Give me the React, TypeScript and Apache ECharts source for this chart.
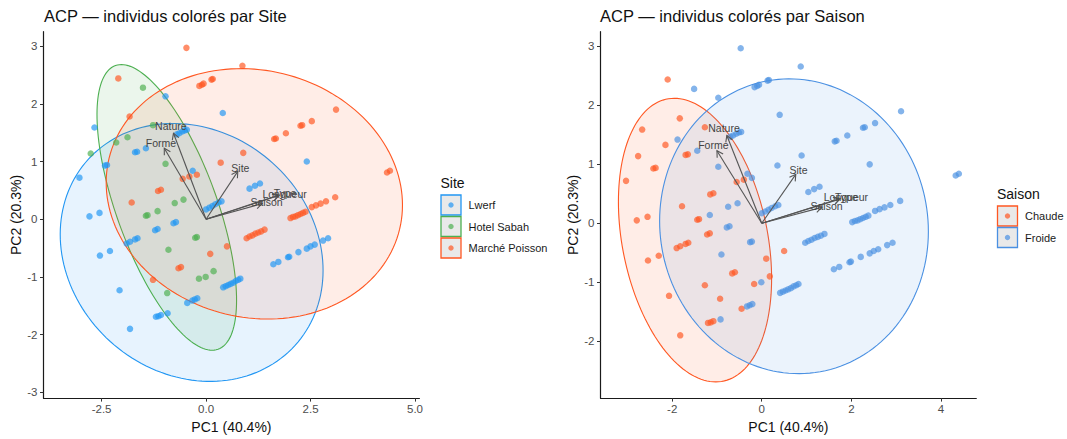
import React, { useEffect, useRef } from 'react';
import * as echarts from 'echarts';

const FONT = '"Liberation Sans", Arial, Helvetica, sans-serif';

const siteNames = ['Lwerf', 'Hotel Sabah', 'Marché Poisson'];
const siteColors = ['#2196F3', '#4CAF50', '#FF5722'];
const saisonNames = ['Chaude', 'Froide'];
const saisonCodes = ['C', 'F'];
const saisonColors = ['#FF5722', '#4A90E2'];

// individuals: [PC1, PC2, saison]
const pointsLwerf: [number, number, string][] = [
  [-0.97, 2.13, 'F'], [0.40, 1.84, 'F'], [-2.67, 1.59, 'C'],
  [-0.70, 1.47, 'F'], [-0.64, 1.49, 'F'], [-0.57, 1.52, 'F'], [-0.51, 1.54, 'F'], [-0.46, 1.55, 'F'],
  [-1.70, 1.16, 'C'], [-1.65, 1.17, 'C'], [-1.44, 1.23, 'F'],
  [-2.42, 0.93, 'C'], [-2.37, 0.94, 'C'], [2.41, 1.00, 'F'], [-3.03, 0.72, 'C'], [-0.32, 0.84, 'F'],
  [1.04, 0.53, 'F'], [1.17, 0.58, 'F'], [1.29, 0.62, 'F'],
  [0.00, 0.17, 'F'], [0.08, 0.20, 'F'], [0.15, 0.23, 'F'], [0.22, 0.26, 'F'], [0.30, 0.29, 'F'], [0.37, 0.31, 'F'],
  [-2.79, 0.05, 'C'], [-2.55, 0.11, 'C'],
  [-1.90, -0.42, 'C'], [-1.82, -0.39, 'C'], [-1.70, -0.35, 'C'], [-1.64, -0.33, 'C'],
  [-1.22, -0.19, 'C'], [-1.16, -0.17, 'C'], [-0.78, -0.07, 'F'], [-0.72, -0.05, 'F'],
  [-2.54, -0.63, 'C'], [-2.30, -0.55, 'C'], [-2.07, -1.23, 'C'],
  [1.61, -0.78, 'F'], [1.73, -0.74, 'F'], [1.96, -0.66, 'F'], [1.99, -0.65, 'F'], [2.21, -0.57, 'F'],
  [2.41, -0.51, 'F'], [2.50, -0.47, 'F'], [2.60, -0.44, 'F'], [2.80, -0.37, 'F'], [2.92, -0.33, 'F'],
  [0.41, -1.18, 'F'], [0.47, -1.16, 'F'], [0.53, -1.14, 'F'], [0.59, -1.12, 'F'],
  [0.65, -1.10, 'F'], [0.71, -1.07, 'F'], [0.77, -1.05, 'F'], [0.82, -1.03, 'F'],
  [-0.45, -1.45, 'C'], [-0.33, -1.41, 'F'], [-0.27, -1.39, 'F'], [-0.21, -1.37, 'F'],
  [-1.20, -1.69, 'C'], [-1.14, -1.68, 'C'], [-1.08, -1.66, 'C'], [-0.92, -1.63, 'F'], [-1.82, -1.90, 'C'],
];

const pointsHotelSabah: [number, number, string][] = [
  [-1.51, 2.28, 'F'], [-1.27, 1.63, 'C'], [-1.88, 1.42, 'F'], [-2.15, 1.33, 'C'], [-2.76, 1.14, 'C'],
  [-0.97, 0.96, 'F'], [-0.54, 0.34, 'F'], [-0.75, 0.28, 'F'], [-1.16, 0.14, 'F'],
  [-1.44, 0.06, 'C'], [-1.40, 0.07, 'C'], [-0.26, -0.32, 'F'], [-0.22, -0.31, 'F'],
  [-0.90, -0.53, 'F'], [0.18, -0.90, 'C'], [-0.01, -1.00, 'F'], [-0.17, -1.03, 'C'], [-0.93, -1.28, 'C'],
];

const pointsMarchePoisson: [number, number, string][] = [
  [-0.47, 2.97, 'F'], [0.87, 2.66, 'F'], [-2.10, 2.44, 'C'],
  [-0.16, 2.31, 'F'], [-0.10, 2.33, 'F'], [-0.06, 2.35, 'F'], [0.13, 2.42, 'F'], [0.16, 2.43, 'F'],
  [-1.83, 1.78, 'C'], [3.11, 1.90, 'F'], [2.53, 1.70, 'F'], [2.26, 1.62, 'F'], [2.30, 1.63, 'F'],
  [1.91, 1.49, 'F'], [1.63, 1.39, 'F'], [1.67, 1.40, 'F'], [0.89, 1.15, 'F'], [0.35, 0.98, 'F'],
  [-0.22, 0.77, 'F'], [-0.40, 0.74, 'C'], [-0.56, 0.70, 'C'], [4.33, 0.81, 'F'], [4.40, 0.84, 'F'],
  [-1.15, 0.49, 'C'], [-1.08, 0.51, 'C'], [-1.78, 0.29, 'C'],
  [3.09, 0.38, 'F'], [2.87, 0.31, 'F'], [2.74, 0.27, 'F'], [2.63, 0.24, 'F'], [2.53, 0.21, 'F'],
  [2.02, 0.02, 'F'], [2.08, 0.04, 'F'], [2.14, 0.05, 'F'], [2.20, 0.07, 'F'], [2.26, 0.09, 'F'], [2.32, 0.11, 'F'], [2.38, 0.13, 'F'],
  [0.97, -0.33, 'F'], [1.04, -0.30, 'F'], [1.11, -0.28, 'F'], [1.18, -0.25, 'F'], [1.25, -0.23, 'F'], [1.32, -0.21, 'F'], [1.40, -0.18, 'F'],
  [0.50, -0.47, 'C'], [0.10, -0.60, 'C'], [-0.66, -0.85, 'C'], [-0.60, -0.83, 'C'], [-1.27, -1.05, 'C'],
];

// variable loadings (arrows)
const variableNames = ['Nature', 'Forme', 'Site', 'Longueur', 'Type', 'Saison'];
const loadingsPC1 = [-0.78, -1.0, 0.76, 1.74, 1.75, 1.34];
const loadingsPC2 = [1.49, 1.23, 0.83, 0.41, 0.42, 0.27];

// confidence ellipses: [centre PC1, centre PC2, half-width, half-height, correlation]
const siteEllipses = [
  [-0.345, -0.575, 3.145, 2.235, -0.14],
  [-0.94, 0.205, 1.67, 2.475, -0.65],
  [1.155, 0.44, 3.545, 2.17, -0.09],
];
const saisonEllipses = [
  [-1.49, -0.285, 1.71, 2.405, -0.27],
  [0.72, -0.05, 3.0, 2.5, -0.035],
];

const xTicksSite = [-2.5, 0, 2.5, 5];
const yTicksSite = [-3, -2, -1, 0, 1, 2, 3];
const xTicksSaison = [-2, 0, 2, 4];
const yTicksSaison = [-2, -1, 0, 1, 2, 3];

function rgba(hex: string, a: number) {
  const n = parseInt(hex.slice(1), 16);
  return `rgba(${(n >> 16) & 255},${(n >> 8) & 255},${n & 255},${a})`;
}

function ellipseSeries(params: number[][], colors: string[], idx: number) {
  return {
    type: 'custom',
    xAxisIndex: idx,
    yAxisIndex: idx,
    z: 1,
    clip: false,
    silent: true,
    data: params,
    renderItem: (p: any, api: any) => {
      const cx = api.value(0), cy = api.value(1), sx = api.value(2), sy = api.value(3), r = api.value(4);
      const k = Math.sqrt(1 - r * r);
      const pts: number[][] = [];
      const N = 160;
      for (let i = 0; i < N; i++) {
        const t = (i / N) * Math.PI * 2;
        pts.push(api.coord([cx + sx * Math.cos(t), cy + sy * (r * Math.cos(t) + k * Math.sin(t))]));
      }
      const c = colors[p.dataIndex];
      return {
        type: 'polygon',
        shape: { points: pts },
        style: { fill: rgba(c, 0.11), stroke: c, lineWidth: 1.1 },
      };
    },
  };
}

function arrowSeries(idx: number) {
  return {
    type: 'custom',
    xAxisIndex: idx,
    yAxisIndex: idx,
    z: 5,
    clip: false,
    silent: true,
    data: loadingsPC1.map((v, i) => [v, loadingsPC2[i]]),
    renderItem: (p: any, api: any) => {
      const x = api.value(0), y = api.value(1);
      const o = api.coord([0, 0]);
      const t = api.coord([x, y]);
      const lp = api.coord([x * 1.08, y * 1.08]);
      const ang = Math.atan2(t[1] - o[1], t[0] - o[0]);
      const L = 7, a = Math.PI / 6;
      const h1 = [t[0] - L * Math.cos(ang - a), t[1] - L * Math.sin(ang - a)];
      const h2 = [t[0] - L * Math.cos(ang + a), t[1] - L * Math.sin(ang + a)];
      const col = '#555555';
      return {
        type: 'group',
        children: [
          { type: 'line', shape: { x1: o[0], y1: o[1], x2: t[0], y2: t[1] }, style: { stroke: col, lineWidth: 1.1 } },
          { type: 'polyline', shape: { points: [h1, t, h2] }, style: { stroke: col, lineWidth: 1.1, fill: 'none' } },
          {
            type: 'text',
            style: {
              text: variableNames[p.dataIndex], x: lp[0], y: lp[1],
              align: 'center', verticalAlign: 'middle',
              fontSize: 10.5, fontFamily: FONT, fill: '#444444',
            },
          },
        ],
      };
    },
  };
}

function axisPair(idx: number, xmin: number, xmax: number, ymin: number, ymax: number, xt: number[], yt: number[], xfmt: (v: number) => string, nameGapY: number) {
  const common = {
    axisLine: { show: true, onZero: false, lineStyle: { color: '#1a1a1a', width: 1.2 } },
    axisTick: { show: true, length: 3.5, lineStyle: { color: '#333', width: 1 } },
    splitLine: { show: false },
  };
  const x = {
    ...common,
    type: 'value', gridIndex: idx, min: xmin, max: xmax,
    axisTick: { ...common.axisTick, customValues: xt },
    axisLabel: { customValues: xt, formatter: xfmt, fontSize: 11.5, color: '#4D4D4D', margin: 5, fontFamily: FONT },
    name: 'PC1 (40.4%)', nameLocation: 'middle', nameGap: 18,
    nameTextStyle: { fontSize: 14, color: '#111', fontFamily: FONT, verticalAlign: 'top' },
  };
  const y = {
    ...common,
    type: 'value', gridIndex: idx, min: ymin, max: ymax,
    axisTick: { ...common.axisTick, customValues: yt },
    axisLabel: { customValues: yt, formatter: (v: number) => String(v), fontSize: 11.5, color: '#4D4D4D', margin: 6, fontFamily: FONT },
    name: 'PC2 (20.3%)', nameLocation: 'middle', nameGap: nameGapY,
    nameTextStyle: { fontSize: 14, color: '#111', fontFamily: FONT },
  };
  return { x, y };
}

function legendGraphics(title: string, names: string[], colors: string[], x0: number, yTitle: number, yKey: number) {
  const els: any[] = [
    { type: 'text', x: x0, y: yTitle, style: { text: title, fontSize: 14, fontFamily: FONT, fill: '#111', verticalAlign: 'middle' } },
  ];
  names.forEach((n, i) => {
    const y = yKey + i * 21.5;
    els.push({ type: 'rect', shape: { x: x0 + 0.5, y, width: 20, height: 20 }, style: { fill: '#E9E9E9', stroke: colors[i], lineWidth: 1.3 } });
    els.push({ type: 'circle', shape: { cx: x0 + 10.5, cy: y + 10, r: 2.7 }, style: { fill: colors[i], opacity: 0.7 } });
    els.push({ type: 'text', x: x0 + 28, y: y + 10, style: { text: n, fontSize: 11, fontFamily: FONT, fill: '#1a1a1a', verticalAlign: 'middle' } });
  });
  return els;
}

export default function App() {
  const ref = useRef<HTMLDivElement>(null);
  useEffect(() => {
    if (!ref.current) return;
    const chart = echarts.init(ref.current, undefined, { renderer: 'svg' });
    const sitePoints = [pointsLwerf, pointsHotelSabah, pointsMarchePoisson];
    const allPoints = [...pointsLwerf, ...pointsHotelSabah, ...pointsMarchePoisson];

    const a0 = axisPair(0, -3.89, 5.105, -3.1, 3.25, xTicksSite, yTicksSite, (v) => v.toFixed(1), 19.5);
    const a1 = axisPair(1, -3.6, 4.79, -2.965, 3.25, xTicksSaison, yTicksSaison, (v) => String(v), 20);

    const series: any[] = [
      ellipseSeries(siteEllipses, siteColors, 0),
      ellipseSeries(saisonEllipses, saisonColors, 1),
    ];
    sitePoints.forEach((pts, i) => {
      series.push({
        type: 'scatter', name: siteNames[i], xAxisIndex: 0, yAxisIndex: 0, z: 3,
        symbolSize: 6.5, data: pts.map((p) => [p[0], p[1]]),
        itemStyle: { color: siteColors[i], opacity: 0.68 },
      });
    });
    saisonCodes.forEach((code, i) => {
      series.push({
        type: 'scatter', name: saisonNames[i], xAxisIndex: 1, yAxisIndex: 1, z: 3,
        symbolSize: 6.5, data: allPoints.filter((p) => p[2] === code).map((p) => [p[0], p[1]]),
        itemStyle: { color: saisonColors[i], opacity: 0.68 },
      });
    });
    series.push(arrowSeries(0), arrowSeries(1));

    chart.setOption({
      animation: false,
      backgroundColor: '#ffffff',
      title: [
        { text: 'ACP — individus colorés par Site', left: 44, top: 7, padding: 0, textStyle: { fontSize: 16.5, fontWeight: 'normal', color: '#111', fontFamily: FONT } },
        { text: 'ACP — individus colorés par Saison', left: 600, top: 7, padding: 0, textStyle: { fontSize: 16.5, fontWeight: 'normal', color: '#111', fontFamily: FONT } },
      ],
      grid: [
        { left: 43.5, top: 31.7, width: 375.9, height: 371, containLabel: false },
        { left: 600.5, top: 31.7, width: 375.8, height: 371, containLabel: false },
      ],
      xAxis: [a0.x, a1.x],
      yAxis: [a0.y, a1.y],
      series,
      graphic: [
        ...legendGraphics('Site', siteNames, siteColors, 440.5, 182.7, 195),
        ...legendGraphics('Saison', saisonNames, saisonColors, 997, 194, 206),
      ],
    } as any);
    return () => chart.dispose();
  }, []);
  return <div ref={ref} style={{ position: 'absolute', left: 0, top: 0, width: 1067, height: 439 }} />;
}
